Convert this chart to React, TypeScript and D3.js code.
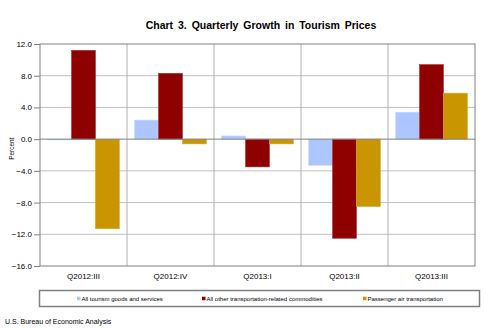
import React, { useEffect, useRef } from "react";
import * as d3 from "d3";

// quarters on the x axis
const quarters = ["Q2012:III", "Q2012:IV", "Q2013:I", "Q2013:II", "Q2013:III"];

// series values, percent growth
const seriesNames = [
  "All tourism goods and services",
  "All other transportation-related commodities",
  "Passenger air transportation"
];
const allTourism = [0.0, 2.4, 0.4, -3.3, 3.4];
const otherTransport = [11.2, 8.3, -3.5, -12.5, 9.4];
const airTransport = [-11.3, -0.6, -0.6, -8.5, 5.8];

const yTicks = [12, 8, 4, 0, -4, -8, -12, -16];
const colors = ["#adc6ff", "#8f0000", "#c99500"];
const borders = ["#c8d8ff", "#a03030", "#d8a830"];

const App = () => {
  const svgRef = useRef<SVGSVGElement>(null);

  useEffect(() => {
    const width = 485;
    const height = 330;
    // ----- plot box
    const margin = { top: 44, right: 10, bottom: 64, left: 40 };

    const svg = d3.select(svgRef.current).attr("width", width).attr("height", height);
    svg.selectAll("*").remove();

    const font = "Arial, 'Liberation Sans', sans-serif";

    const x = d3
      .scaleBand()
      .domain(quarters)
      .range([margin.left, width - margin.right]);

    const inner = d3
      .scaleBand()
      .domain(seriesNames)
      .range([0, x.bandwidth()])
      .paddingOuter(0.32)
      .paddingInner(0);

    const y = d3
      .scaleLinear()
      .domain([-16, 12])
      .range([height - margin.bottom, margin.top]);

    // title
    svg
      .append("text")
      .attr("x", 261)
      .attr("y", 29)
      .attr("text-anchor", "middle")
      .attr("font-family", font)
      .attr("font-weight", "bold")
      .attr("font-size", 10.5)
      .attr("word-spacing", 2)
      .text("Chart 3. Quarterly Growth in Tourism Prices");

    // horizontal grid
    svg
      .append("g")
      .selectAll("line")
      .data(yTicks.filter(t => t !== 0 && t !== 12 && t !== -16))
      .join("line")
      .attr("x1", margin.left)
      .attr("x2", width - margin.right)
      .attr("y1", d => y(d))
      .attr("y2", d => y(d))
      .attr("stroke", "#c0c0c0")
      .attr("stroke-width", 1);

    // vertical dividers
    svg
      .append("g")
      .selectAll("line")
      .data(quarters.slice(1))
      .join("line")
      .attr("x1", d => x(d)!)
      .attr("x2", d => x(d)!)
      .attr("y1", margin.top)
      .attr("y2", height - margin.bottom)
      .attr("stroke", "#b0b0b0")
      .attr("stroke-width", 1);

    // bars
    const table = quarters.map((q, i) => ({
      q,
      vals: [allTourism[i], otherTransport[i], airTransport[i]]
    }));

    const groups = svg
      .append("g")
      .selectAll("g")
      .data(table)
      .join("g")
      .attr("transform", d => `translate(${x(d.q)},0)`);

    groups
      .selectAll("rect")
      .data(d => d.vals.map((v, k) => ({ name: seriesNames[k], v, k })))
      .join("rect")
      .attr("x", d => inner(d.name)!)
      .attr("y", d => Math.min(y(d.v), y(0)))
      .attr("width", inner.bandwidth())
      .attr("height", d => Math.max(Math.abs(y(d.v) - y(0)), 0.8))
      .attr("fill", d => colors[d.k])
      .attr("stroke", d => borders[d.k])
      .attr("stroke-width", 0.6);

    // zero line
    svg
      .append("line")
      .attr("x1", margin.left)
      .attr("x2", width - margin.right)
      .attr("y1", y(0))
      .attr("y2", y(0))
      .attr("stroke", "#808080")
      .attr("stroke-width", 1);

    // plot border
    svg
      .append("rect")
      .attr("x", margin.left)
      .attr("y", margin.top)
      .attr("width", width - margin.left - margin.right)
      .attr("height", height - margin.top - margin.bottom)
      .attr("fill", "none")
      .attr("stroke", "#808080")
      .attr("stroke-width", 1);

    // y axis
    const yAxis = svg
      .append("g")
      .attr("transform", `translate(${margin.left},0)`)
      .call(
        d3
          .axisLeft(y)
          .tickValues(yTicks)
          .tickSize(6)
          .tickFormat(d => d3.format(".1f")(d as number))
      );
    yAxis.select(".domain").remove();
    yAxis.selectAll("line").attr("stroke", "#808080");
    yAxis
      .selectAll("text")
      .attr("font-family", font)
      .attr("font-size", 8)
      .attr("x", -8)
      .attr("fill", "#000");

    // x axis labels
    svg
      .append("g")
      .selectAll("text")
      .data(quarters)
      .join("text")
      .attr("x", d => x(d)! + x.bandwidth() / 2)
      .attr("y", height - margin.bottom + 13)
      .attr("text-anchor", "middle")
      .attr("font-family", font)
      .attr("font-size", 8)
      .text(d => d);

    // y title
    svg
      .append("text")
      .attr("transform", `translate(14,${y(-1.2)}) rotate(-90)`)
      .attr("text-anchor", "middle")
      .attr("font-family", font)
      .attr("font-size", 6.5)
      .text("Percent");

    // legend
    svg
      .append("rect")
      .attr("x", 39.5)
      .attr("y", 290.5)
      .attr("width", 440)
      .attr("height", 16)
      .attr("fill", "#fff")
      .attr("stroke", "#808080")
      .attr("stroke-width", 1.5);

    const legendX = [77, 202, 363];
    const legend = svg
      .append("g")
      .selectAll("g")
      .data(seriesNames)
      .join("g")
      .attr("transform", (d, i) => `translate(${legendX[i]},298.5)`);
    legend
      .append("rect")
      .attr("x", 0)
      .attr("y", -1.8)
      .attr("width", 3.5)
      .attr("height", 3.5)
      .attr("fill", (d, i) => colors[i]);
    legend
      .append("text")
      .attr("x", 4.5)
      .attr("y", 2)
      .attr("font-family", font)
      .attr("font-size", 6)
      .text(d => d);

    // source note
    svg
      .append("text")
      .attr("x", 5)
      .attr("y", 324)
      .attr("font-family", font)
      .attr("font-size", 7)
      .text("U.S. Bureau of Economic Analysis");
  }, []);

  return (
    <div style={{ position: "absolute", left: 0, top: 0 }}>
      <svg ref={svgRef} />
    </div>
  );
};

export default App;
